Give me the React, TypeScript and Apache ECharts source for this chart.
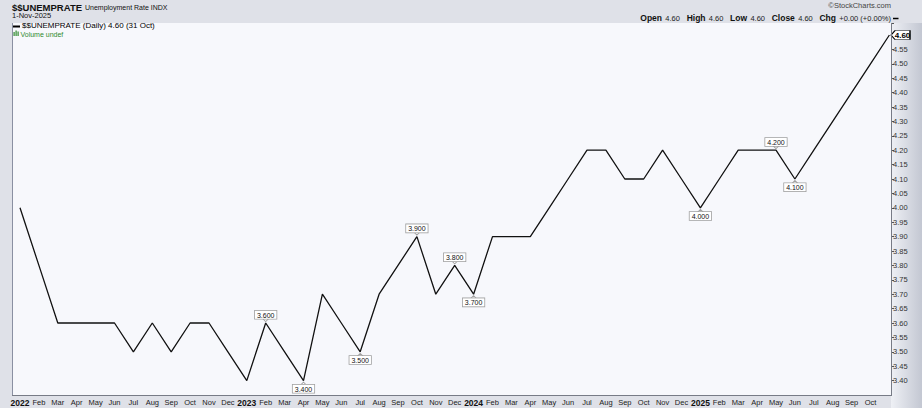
import React, { useEffect, useRef } from 'react';
import * as echarts from 'echarts';

const monthNames = ['Jan', 'Feb', 'Mar', 'Apr', 'May', 'Jun', 'Jul', 'Aug', 'Sep', 'Oct', 'Nov', 'Dec'];
const startYear = 2022;

// Monthly unemployment rate, Jan 2022 .. Nov 2025 (last point = 31 Oct close)
const rates = [
  4.0, 3.8, 3.6, 3.6, 3.6, 3.6, 3.5, 3.6, 3.5, 3.6, 3.6, 3.5,
  3.4, 3.6, 3.5, 3.4, 3.7, 3.6, 3.5, 3.7, 3.8, 3.9, 3.7, 3.8,
  3.7, 3.9, 3.9, 3.9, 4.0, 4.1, 4.2, 4.2, 4.1, 4.1, 4.2, 4.1,
  4.0, 4.1, 4.2, 4.2, 4.2, 4.1, 4.2, 4.3, 4.4, 4.5, 4.6,
];

// Peak / trough annotations (index into rates)
const annotatedAbove = [13, 21, 23, 40];
const annotatedBelow = [15, 18, 24, 36, 41];

const yMin = 3.35;
const yMax = 4.6417;
const yInterval = 0.05;
const yLabelMin = 3.4;
const yLabelMax = 4.55;

const headerStats: [string, string][] = [
  ['Open', '4.60'],
  ['High', '4.60'],
  ['Low', '4.60'],
  ['Close', '4.60'],
  ['Chg', '+0.00 (+0.00%)'],
];

const FONT = '"Liberation Sans", Arial, sans-serif';

const categories = rates.map((_, i) => {
  const y = startYear + Math.floor(i / 12);
  return `${monthNames[i % 12]} ${y}`;
});
const tickLabels = rates.map((_, i) => {
  if (i === rates.length - 1) return '';
  const y = startYear + Math.floor(i / 12);
  return i % 12 === 0 ? `{y|${y}}` : monthNames[i % 12];
});

const pointerDown = 'path://M0,0 L6,0 L3,3 Z';
const pointerUp = 'path://M0,3 L3,0 L6,3 Z';
const tagPath = 'path://M0,4.5 L4,0 L19,0 L19,9 L4,9 Z';

const calloutLabel = (text: string, pos: string) => ({
  show: true,
  position: pos,
  distance: -0.6,
  formatter: text,
  fontFamily: FONT,
  fontSize: 7,
  lineHeight: 7,
  color: '#111',
  textBorderWidth: 0,
  backgroundColor: '#ffffff',
  borderColor: '#a0a0a0',
  borderWidth: 0.8,
  padding: [1, 2, 0, 2],
});

export default function App() {
  const ref = useRef<HTMLDivElement>(null);
  useEffect(() => {
    if (!ref.current) return;
    const chart = echarts.init(ref.current, null, { renderer: 'svg' });

    const markData: any[] = [];
    annotatedAbove.forEach((i) => {
      markData.push({
        coord: [i, rates[i]],
        value: rates[i],
        symbol: pointerDown,
        symbolSize: [6, 3],
        symbolOffset: [0, -3],
        itemStyle: { color: '#ffffff', borderColor: '#a0a0a0', borderWidth: 0.8 },
        label: calloutLabel(rates[i].toFixed(3), 'top'),
      });
    });
    annotatedBelow.forEach((i) => {
      markData.push({
        coord: [i, rates[i]],
        value: rates[i],
        symbol: pointerUp,
        symbolSize: [6, 3],
        symbolOffset: [0, 3],
        itemStyle: { color: '#ffffff', borderColor: '#a0a0a0', borderWidth: 0.8 },
        label: calloutLabel(rates[i].toFixed(3), 'bottom'),
      });
    });
    const last = rates.length - 1;
    markData.push({
      coord: [last, rates[last]],
      value: rates[last],
      symbol: tagPath,
      symbolSize: [19, 9],
      symbolOffset: [11.1, 0],
      itemStyle: { color: '#ffffff', borderColor: '#000000', borderWidth: 1 },
      label: {
        show: true,
        position: 'inside',
        offset: [2, 0.3],
        formatter: rates[last].toFixed(2),
        fontFamily: FONT,
        fontWeight: 'bold',
        fontSize: 8,
        color: '#000',
        textBorderWidth: 0,
      },
    });

    const statsText = headerStats.map(([k, v]) => `{b|${k}} {r|${v}}`).join('  ');

    chart.setOption({
      animation: false,
      backgroundColor: '#dfe1e8',
      grid: { left: 20, right: 32.6, top: 23, bottom: 13, containLabel: false },
      xAxis: {
        type: 'category',
        data: categories,
        boundaryGap: false,
        axisLine: { show: false },
        axisTick: { show: false },
        splitLine: { show: false },
        axisLabel: {
          interval: 0,
          margin: 3,
          fontFamily: FONT,
          fontSize: 7.5,
          color: '#222',
          formatter: (_v: string, idx: number) => tickLabels[idx],
          rich: { y: { fontFamily: FONT, fontSize: 8.5, fontWeight: 'bold', color: '#111' } },
        },
      },
      yAxis: {
        type: 'value',
        position: 'right',
        offset: 1.6,
        min: yMin,
        max: yMax,
        interval: yInterval,
        axisLine: { show: false },
        axisTick: { show: true, length: 3, lineStyle: { color: '#555', width: 1 } },
        splitLine: { show: false },
        axisLabel: {
          margin: 2,
          fontFamily: FONT,
          fontSize: 7.5,
          color: '#333',
          showMinLabel: false,
          formatter: (v: number) => (v < yLabelMin - 0.01 || v > yLabelMax + 0.01 ? '' : v.toFixed(2)),
        },
      },
      series: [
        {
          type: 'line',
          data: rates,
          symbol: 'none',
          color: '#111',
          lineStyle: { color: '#111', width: 1.3 },
          z: 5,
          markPoint: {
            symbolKeepAspect: false,
            data: markData,
            z: 6,
          },
        },
      ],
      graphic: [
        {
          type: 'rect',
          z: -20,
          shape: { x: 891, y: 23, width: 31, height: 385 },
          style: {
            fill: new echarts.graphic.LinearGradient(0, 0, 1, 0, [
              { offset: 0, color: '#eef0f5' },
              { offset: 1, color: '#c3c7d2' },
            ]),
          },
          silent: true,
        },
        {
          type: 'rect',
          z: -10,
          shape: { x: 12, y: 23, width: 879, height: 372 },
          style: { fill: '#f7f8fc' },
          silent: true,
        },
        { type: 'line', z: 20, shape: { x1: 12.5, y1: 23, x2: 12.5, y2: 395 }, style: { stroke: '#8a90a2', lineWidth: 1 } },
        { type: 'line', z: 20, shape: { x1: 12, y1: 395.5, x2: 891.5, y2: 395.5 }, style: { stroke: '#777b86', lineWidth: 1 } },
        { type: 'line', z: 20, shape: { x1: 891.5, y1: 23, x2: 891.5, y2: 396 }, style: { stroke: '#777b86', lineWidth: 1 } },
        {
          type: 'text',
          x: 12,
          y: 7,
          style: { text: '$$UNEMPRATE', font: `bold 9.5px ${FONT}`, fill: '#111', verticalAlign: 'middle' },
        },
        {
          type: 'text',
          x: 85,
          y: 7.5,
          style: { text: 'Unemployment Rate INDX', font: `7px ${FONT}`, fill: '#111', verticalAlign: 'middle' },
        },
        {
          type: 'text',
          x: 12,
          y: 15.8,
          style: { text: '1-Nov-2025', font: `7.5px ${FONT}`, fill: '#111', verticalAlign: 'middle' },
        },
        { type: 'line', z: 20, shape: { x1: 13, y1: 26.5, x2: 20, y2: 26.5 }, style: { stroke: '#000', lineWidth: 2 } },
        {
          type: 'text',
          x: 22,
          y: 25.6,
          z: 20,
          style: { text: '$$UNEMPRATE (Daily) 4.60 (31 Oct)', font: `8px ${FONT}`, fill: '#000', verticalAlign: 'middle' },
        },
        { type: 'rect', z: 20, shape: { x: 13.5, y: 32, width: 1.2, height: 4 }, style: { fill: '#2f8a2f' } },
        { type: 'rect', z: 20, shape: { x: 15.5, y: 30.5, width: 1.2, height: 5.5 }, style: { fill: '#2f8a2f' } },
        { type: 'rect', z: 20, shape: { x: 17.5, y: 31.5, width: 1.2, height: 4.5 }, style: { fill: '#2f8a2f' } },
        {
          type: 'text',
          x: 20.5,
          y: 34,
          z: 20,
          style: { text: 'Volume undef', font: `7px ${FONT}`, fill: '#2f8a2f', verticalAlign: 'middle' },
        },
        {
          type: 'text',
          x: 891,
          y: 5,
          style: { text: '©StockCharts.com', font: `7.5px ${FONT}`, fill: '#444', align: 'right', verticalAlign: 'middle' },
        },
        {
          type: 'text',
          x: 891,
          y: 18,
          style: {
            text: statsText,
            align: 'right',
            verticalAlign: 'middle',
            fill: '#111',
            rich: {
              b: { fontFamily: FONT, fontSize: 8.5, fontWeight: 'bold', fill: '#111' },
              r: { fontFamily: FONT, fontSize: 7.5, fill: '#222' },
            },
          },
        },
        { type: 'line', shape: { x1: 893, y1: 18.5, x2: 898.5, y2: 18.5 }, style: { stroke: '#000', lineWidth: 1.5 } },
      ],
    });
    return () => chart.dispose();
  }, []);
  return <div ref={ref} style={{ position: 'fixed', left: 0, top: 0, width: 922, height: 408 }} />;
}
